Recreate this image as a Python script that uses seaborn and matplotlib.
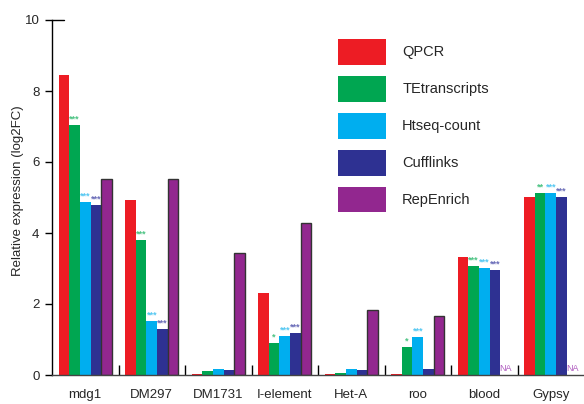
import numpy as np
import pandas as pd
import matplotlib
matplotlib.use("Agg")
import matplotlib.pyplot as plt
import matplotlib.patches as mpatches
import seaborn as sns

# Transposable element families
categories = ["mdg1", "DM297", "DM1731", "I-element", "Het-A", "roo", "blood", "Gypsy"]
methods = ["QPCR", "TEtranscripts", "Htseq-count", "Cufflinks", "RepEnrich"]

# Relative expression (log2 fold change) per method
qpcr = [8.45, 4.92, 0.02, 2.32, 0.02, 0.02, 3.32, 5.01]
tetranscripts = [7.04, 3.80, 0.12, 0.90, 0.05, 0.80, 3.07, 5.12]
htseq = [4.88, 1.52, 0.16, 1.09, 0.16, 1.08, 3.02, 5.13]
cufflinks = [4.78, 1.30, 0.13, 1.18, 0.13, 0.17, 2.96, 5.01]
repenrich = [5.52, 5.52, 3.44, 4.27, 1.83, 1.65, np.nan, np.nan]

# Significance marks relative to QPCR
stars = {
    "TEtranscripts": ["***", "***", "", "*", "", "*", "***", "**"],
    "Htseq-count": ["***", "***", "", "***", "", "***", "***", "***"],
    "Cufflinks": ["***", "***", "", "***", "", "", "***", "***"],
}

colors = ["#ED1C24", "#00A651", "#00AEEF", "#2E3192", "#92278F"]
star_colors = {"TEtranscripts": "#4cc383", "Htseq-count": "#55c8f2", "Cufflinks": "#6a6cb8"}

series = [qpcr, tetranscripts, htseq, cufflinks, repenrich]
rows = []
for m, vals in zip(methods, series):
    for c, v in zip(categories, vals):
        rows.append({"TE": c, "Method": m, "log2FC": v})
df = pd.DataFrame(rows)

sns.set_style("white")
plt.rcParams["font.family"] = ["Liberation Sans", "DejaVu Sans"]

fig = plt.figure(figsize=(5.84, 4.04), dpi=100)
ax = fig.add_axes([52 / 584, 29 / 404, 532 / 584, 355 / 404])

sns.barplot(data=df, x="TE", y="log2FC", hue="Method", order=categories,
            hue_order=methods, palette=colors, errorbar=None, width=0.8,
            saturation=1, linewidth=0, legend=False, ax=ax)

# Outline the RepEnrich bars
for bar in ax.containers[4]:
    bar.set_edgecolor("#333333")
    bar.set_linewidth(1.0)

# Significance asterisks above bars
for j, m in enumerate(methods):
    if m not in stars:
        continue
    for i, bar in enumerate(ax.containers[j]):
        s = stars[m][i]
        if not s:
            continue
        xc = bar.get_x() + bar.get_width() / 2
        ax.text(xc, bar.get_height() + 0.04, s, ha="center", va="bottom",
                fontsize=6.5, color=star_colors[m], fontweight="bold")

# NA labels where RepEnrich has no value
for i, v in enumerate(repenrich):
    if np.isnan(v):
        ref = ax.containers[3][i]
        xc = ref.get_x() + ref.get_width() * 1.5
        ax.text(xc, 0.05, "NA", ha="center", va="bottom", fontsize=6.5,
                color="#b05cc0")

ax.set_xlim(-0.5, len(categories) - 0.5)
ax.set_ylim(0, 10)
ax.set_yticks([0, 2, 4, 6, 8, 10])
ax.set_xlabel("")
ax.set_ylabel("Relative expression (log2FC)", fontsize=9.5)
ax.yaxis.set_label_coords(-0.053, 0.52)

for side in ["top", "right"]:
    ax.spines[side].set_visible(False)
ax.spines["left"].set_color("black")
ax.spines["left"].set_linewidth(1.0)
ax.spines["bottom"].set_color("#444444")
ax.spines["bottom"].set_linewidth(1.0)

ax.tick_params(axis="y", direction="out", length=5, width=1, color="black",
               labelsize=9.5, pad=4, left=True)
ax.tick_params(axis="x", which="major", length=0, labelsize=9.5, pad=10)
ax.set_xticks(np.arange(len(categories) - 1) + 0.5, minor=True)
ax.tick_params(axis="x", which="minor", direction="in", length=7, width=1,
               color="black", bottom=True)
ax.axhline(10, 0, 0.023, color="black", lw=1, clip_on=False)

handles = [mpatches.Patch(facecolor=c, edgecolor="none", label=m)
           for c, m in zip(colors, methods)]
fig.legend(handles=handles, loc="upper left",
           bbox_to_anchor=(338 / 584, 1 - 39 / 404), frameon=False,
           fontsize=10.5, handlelength=3.3, handleheight=2.36,
           labelspacing=0.75, handletextpad=1.1, borderpad=0,
           borderaxespad=0)

fig.savefig("out.png", dpi=100)
